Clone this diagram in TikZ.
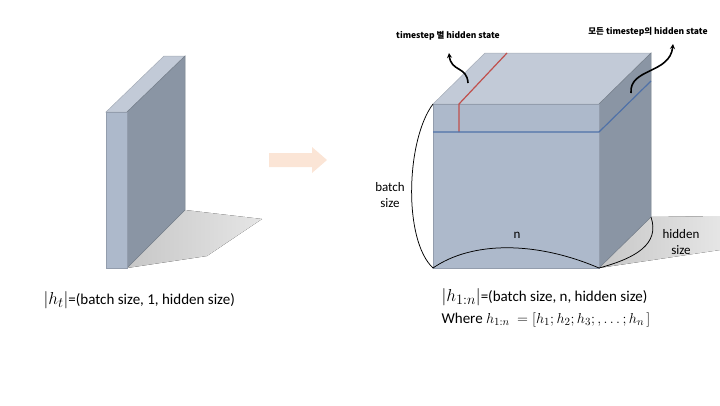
\documentclass[tikz,border=0pt]{standalone}
\usepackage{fontspec}
\setmainfont{Carlito}
\newfontfamily\kofont{Noto Sans CJK KR}
\usetikzlibrary{arrows.meta,positioning,calc}
\definecolor{faceF}{HTML}{ADB9CB}
\definecolor{faceT}{HTML}{C2CAD7}
\definecolor{faceR}{HTML}{8A95A4}
\definecolor{peach}{HTML}{FBE5D6}
\definecolor{lnRed}{HTML}{C0504D}
\definecolor{lnBlue}{HTML}{4F71A8}
\tikzset{
  face/.style={fill=#1, draw=#1!85!black, line width=0.5pt},
  shad/.style={draw=none, left color=black!22, right color=black!10},
  brc/.style={draw=black, line width=0.75pt},
  curl/.style={-{Stealth[length=5pt,width=5pt]}, line width=1.6pt},
  lbl/.style={font=\fontsize{13}{16}\selectfont, align=center},
  tag/.style={font=\kofont\bfseries\fontsize{8.5}{10}\selectfont},
  eqn/.style={font=\fontsize{15}{20}\selectfont, align=left},
}
\begin{document}
\begin{tikzpicture}[x=1pt,y=-1pt]
  \useasboundingbox (0,0) rectangle (720,405);
  % one timestep slab
  \coordinate (sA) at (106,112); \coordinate (sB) at (127,112);
  \coordinate (sC) at (185,56);  \coordinate (sD) at (164,56);
  \coordinate (sE) at (127,268); \coordinate (sF) at (106,268);
  \coordinate (sG) at (185,210);
  \fill[shad] (sG) -- (262,219) -- (207,256) -- (sE) -- cycle;
  \draw[face=faceT] (sA) -- (sB) -- (sC) -- (sD) -- cycle;
  \draw[face=faceR] (sB) -- (sC) -- (sG) -- (sE) -- cycle;
  \draw[face=faceF] (sA) rectangle (sE);
  % block arrow
  \fill[peach] (269,153) -- (312,153) -- (312,147) -- (327,160)
    -- (312,173) -- (312,167) -- (269,167) -- cycle;
  % stacked cube
  \coordinate (cA) at (433,104); \coordinate (cB) at (599,104);
  \coordinate (cC) at (651,53);  \coordinate (cD) at (485,53);
  \coordinate (cE) at (599,268); \coordinate (cF) at (433,268);
  \coordinate (cG) at (651,217);
  \fill[shad] (cG) -- (720,216) -- (720,250) -- (cE) -- cycle;
  \draw[face=faceT] (cA) -- (cB) -- (cC) -- (cD) -- cycle;
  \draw[face=faceR] (cB) -- (cC) -- (cG) -- (cE) -- cycle;
  \draw[face=faceF] (cA) rectangle (cE);
  \draw[lnRed, line width=1.2pt] (507,53) -- (459,104) -- (459,132);
  \draw[lnBlue, line width=1.2pt] (433,132) -- (599,132) -- (651,81);
  % dimension curves
  \draw[brc] (cA) .. controls (406,140) and (403,240) .. (cF);
  \draw[brc] (cF) .. controls (472,241) and (536,241) .. (cE);
  \draw[brc] (cE) .. controls (636,258) and (660,244) .. (cG);
  \node[lbl] (bsz) at (390,195) {batch\\size};
  \node[lbl] (nlen) at (517,235) {n};
  \node[lbl] (hsz) at (681,242) {hidden\\size};
  % labels on top
  \node[tag] (tsOne) at (448,36) {timestep 별 hidden state};
  \node[tag] (tsAll) at (648,32) {모든 timestep의 hidden state};
  \coordinate (tOne) at (449,53); \coordinate (tAll) at (673,44);
  \coordinate (fOne) at (468,83); \coordinate (fAll) at (631,93);
  \draw[curl] (fOne) .. controls (467,66) and (451,72) .. (tOne);
  \draw[curl] (fAll) .. controls (629,68) and (670,74) .. (tAll);
  % shapes
  \node[eqn, anchor=west] (hOne) at (40,300)
    {{\fontsize{19}{20}\selectfont$|h_t|$}=(batch size, 1, hidden size)};
  \node[eqn, anchor=north west] (hAll) at (438,285)
    {{\fontsize{19}{20}\selectfont$|h_{1:n}|$}=(batch size, n, hidden size)\\[2pt]
     Where $h_{1:n}\ = [h_1; h_2; h_3; , \ldots; h_n\,]$};
\end{tikzpicture}
\end{document}
